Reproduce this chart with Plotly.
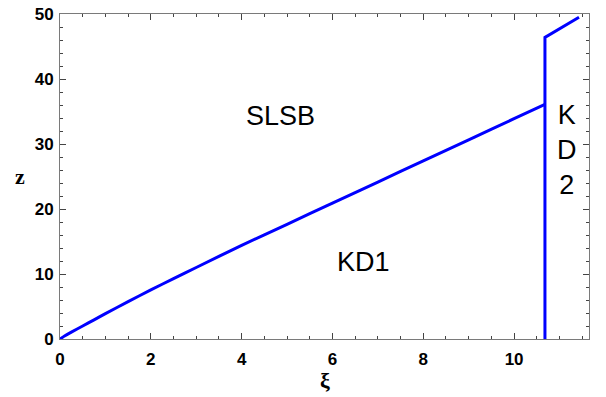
import plotly.graph_objects as go

# KD1 / SLSB boundary curve
xi_lower = [0, 0.1, 0.25, 0.5, 0.75, 1, 1.5, 2, 2.5, 3, 4, 5, 6, 7, 8, 9, 10, 10.68]
z_lower = [0, 0.45, 1.05, 2.0, 2.95, 3.9, 5.75, 7.55, 9.3, 11.0, 14.4, 17.65, 20.9, 24.15, 27.4, 30.65, 33.9, 36.1]
# vertical KD1/KD2 boundary and upper segment
xi_upper = [10.68, 10.68, 11.43]
z_upper = [0, 46.4, 49.5]

region_labels = ["SLSB", "KD1", "K<br>D<br>2"]
label_x = [4.85, 6.68, 11.17]
label_y = [34.3, 11.8, 29.1]

blue = "rgb(0,0,255)"
fig = go.Figure()
fig.add_trace(go.Scatter(x=xi_lower, y=z_lower, mode="lines",
                         line=dict(color=blue, width=3, shape="spline", smoothing=0.6),
                         showlegend=False, hoverinfo="skip"))
fig.add_trace(go.Scatter(x=xi_upper, y=z_upper, mode="lines",
                         line=dict(color=blue, width=3),
                         showlegend=False, hoverinfo="skip"))

for t, x, y in zip(region_labels, label_x, label_y):
    fig.add_annotation(x=x, y=y, text=t, showarrow=False,
                       font=dict(family="Liberation Sans, Arial", size=27, color="black"))

# axis titles
fig.add_annotation(xref="paper", yref="paper", x=0.5, y=-0.128, yanchor="middle",
                   text="ξ", showarrow=False,
                   font=dict(family="Liberation Serif, Times New Roman", size=22, color="black", weight="bold"))
fig.add_annotation(xref="paper", yref="paper", x=-0.076, y=0.5, xanchor="center",
                   text="z", showarrow=False,
                   font=dict(family="Liberation Serif, Times New Roman", size=22, color="black", weight="bold"))

axis_common = dict(
    showgrid=False, zeroline=False, showline=True, linecolor="#7a7a7a", linewidth=1,
    mirror="ticks", ticks="inside", ticklen=6, tickcolor="#444", tickwidth=1,
    automargin=False,
    tickfont=dict(family="Liberation Sans, Arial", size=17, color="black", weight="bold"),
)
fig.update_xaxes(range=[0, 11.65], tick0=0, dtick=2,
                 minor=dict(dtick=0.5, ticks="inside", ticklen=3, tickcolor="#444"),
                 ticklabelstandoff=5,
                 **axis_common)
fig.update_yaxes(range=[0, 50], tick0=0, dtick=10,
                 minor=dict(dtick=2, ticks="inside", ticklen=3, tickcolor="#444"),
                 ticklabelstandoff=2,
                 **axis_common)

fig.update_layout(width=606, height=397, margin=dict(l=60, r=17, t=14, b=58),
                  paper_bgcolor="white", plot_bgcolor="white")
fig.write_html("out.html")
